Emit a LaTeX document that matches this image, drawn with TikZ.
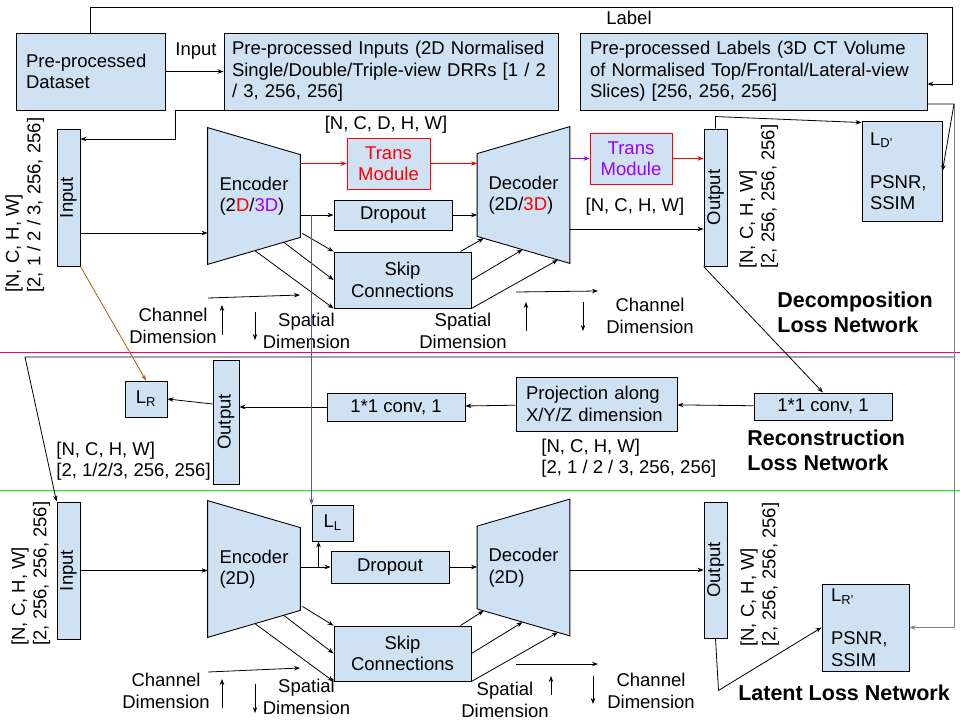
\documentclass[tikz,border=0pt]{standalone}
\usepackage{fontspec}
\setmainfont{Liberation Sans}
\usetikzlibrary{arrows.meta,calc,backgrounds}

\definecolor{boxblue}{HTML}{CFE2F3}
\definecolor{tmpurple}{HTML}{9900FF}
\definecolor{llpurple}{HTML}{674EA7}
\definecolor{lrorange}{HTML}{B45F06}

\tikzset{
  blk/.style={draw, fill=boxblue, line width=0.9pt, inner sep=0pt, align=center},
  txtbox/.style={draw, fill=boxblue, line width=0.9pt, align=left, inner xsep=10pt},
  coder/.style={inner sep=0pt, minimum width=92pt, minimum height=136pt, align=left},
  sizelbl/.style={rotate=90, align=left, anchor=north west, inner sep=0pt},
  dimlbl/.style={align=center, inner sep=0pt},
  netname/.style={font=\fontsize{21.5}{25}\selectfont\bfseries, align=left, inner sep=0pt},
  trapfill/.style={fill=boxblue, line width=0.9pt}
}

\begin{document}
\begin{tikzpicture}[x=1pt, y=-1pt, line width=0.8pt,
    font=\fontsize{18.5}{21.5}\selectfont,
    >={Stealth[length=6pt,width=4.5pt]}]
  \useasboundingbox (0,0) rectangle (960,720);

  % section borders
  \draw[magenta, line width=1pt] (0,352.5) -- (960,352.5);
  \draw[green, line width=1pt] (0,490.5) -- (960,490.5);

  % pre-processing
  \node[txtbox, text width=129pt, minimum height=77pt] (ds) at (90.5,71.5) {Pre-processed\\Dataset};
  \node[txtbox, inner xsep=8pt, text width=318pt, minimum height=77pt] (inp) at (391,71.5) {Pre-processed Inputs (2D Normalised\\Single/Double/Triple-view DRRs [1 / 2\\/ 3, 256, 256]};
  \node[txtbox, text width=327pt, minimum height=77pt] (lab) at (753.5,71.5) {Pre-processed Labels (3D CT Volume\\of Normalised Top/Frontal/Lateral-view\\Slices) [256, 256, 256]};
  \node (inlbl) at (196,51) {Input};
  \node (lablbl) at (629,18) {Label};

  % decomposition loss network
  \node[blk, minimum width=23pt, minimum height=137pt] (in1) at (68.5,197.5) {\rotatebox{90}{Input}};
  \node[sizelbl] (in1lbl) at (5,293) {[N, C, H, W]\\{}[2, 1 / 2 / 3, 256, 256]};
  \node[coder] (enc1) at (254,196) {Encoder\\(2\textcolor{red}{D}/\textcolor{tmpurple}{3D})};
  \node[blk, draw=red, text=red, minimum width=83pt, minimum height=51pt] (tm1) at (388.5,163.5) {Trans\\Module};
  \node (tm1lbl) at (386,125) {[N, C, D, H, W]};
  \node[blk, minimum width=118pt, minimum height=30pt] (dp1) at (393,215) {Dropout};
  \node[blk, minimum width=137pt, minimum height=56pt] (sk1) at (402.5,280) {Skip\\Connections};
  \node[coder] (dec1) at (523.5,195) {Decoder\\(2D/\textcolor{red}{3D})};
  \node[blk, draw=red, text=tmpurple, minimum width=82pt, minimum height=51pt] (tm2) at (631,158.5) {Trans\\Module};
  \node (tm2lbl) at (635,207) {[N, C, H, W]};
  \node[blk, minimum width=23pt, minimum height=137pt] (out1) at (715.5,197.5) {\rotatebox{90}{Output}};
  \node[sizelbl] (out1lbl) at (739,269) {[N, C, H, W]\\{}[2, 256, 256, 256]};
  \node[txtbox, inner xsep=8pt, text width=64pt, minimum height=100pt] (ld) at (902,171) {L\textsubscript{D’}\\[21.5pt]PSNR,\\SSIM};
  \node[dimlbl] (ch1) at (173,326) {Channel\\Dimension};
  \node[dimlbl] (sp1) at (306.5,331) {Spatial\\Dimension};
  \node[dimlbl] (sp2) at (463,331) {Spatial\\Dimension};
  \node[dimlbl] (ch2) at (650,316) {Channel\\Dimension};
  \node[netname, anchor=west] (dnet) at (777,312) {Decomposition\\Loss Network};

  % reconstruction loss network
  \node[blk, minimum width=138pt, minimum height=27pt] (cv2) at (823,406.5) {1*1 conv, 1};
  \node[txtbox, text width=141pt, minimum height=54pt] (pj) at (596.5,404) {Projection along\\X/Y/Z dimension};
  \node[blk, minimum width=138pt, minimum height=28pt] (cv1) at (396,407) {1*1 conv, 1};
  \node[blk, minimum width=26pt, minimum height=124pt] (out3) at (226,422) {\rotatebox{90}{Output}};
  \node[blk, minimum width=42pt, minimum height=36pt] (lr) at (146,399) {L\textsubscript{R}};
  \node[align=left, anchor=west, inner sep=0pt] (out3lbl) at (56,461) {[N, C, H, W]\\{}[2, 1/2/3, 256, 256]};
  \node[align=left, anchor=west, inner sep=0pt] (pjlbl) at (541,458) {[N, C, H, W]\\{}[2, 1 / 2 / 3, 256, 256]};
  \node[netname, anchor=west] (rnet) at (747,450) {Reconstruction\\Loss Network};

  % latent loss network
  \node[blk, minimum width=23pt, minimum height=137pt] (in2) at (68.5,570.5) {\rotatebox{90}{Input}};
  \node[sizelbl] (in2lbl) at (11,646) {[N, C, H, W]\\{}[2, 256, 256, 256]};
  \node[coder] (enc2) at (254,569) {Encoder\\(2D)};
  \node[blk, minimum width=41pt, minimum height=36pt] (ll) at (332.5,523) {L\textsubscript{L}};
  \node[blk, minimum width=118pt, minimum height=32pt] (dp2) at (390,567) {Dropout};
  \node[blk, minimum width=137pt, minimum height=55pt] (sk2) at (402.5,653.5) {Skip\\Connections};
  \node[coder] (dec2) at (523.5,567.5) {Decoder\\(2D)};
  \node[blk, minimum width=23pt, minimum height=136pt] (out2) at (715.5,570) {\rotatebox{90}{Output}};
  \node[sizelbl] (out2lbl) at (740,647) {[N, C, H, W]\\{}[2, 256, 256, 256]};
  \node[txtbox, inner xsep=9pt, text width=69pt, minimum height=87pt] (lr2) at (865.5,627.5) {L\textsubscript{R’}\\[21.5pt]PSNR,\\SSIM};
  \node[dimlbl] (ch3) at (166,691) {Channel\\Dimension};
  \node[dimlbl] (sp3) at (306.5,697) {Spatial\\Dimension};
  \node[dimlbl] (sp4) at (505,700) {Spatial\\Dimension};
  \node[dimlbl] (ch4) at (651,691) {Channel\\Dimension};
  \node[netname] (lnet) at (844,693) {Latent Loss Network};

  % encoder / decoder bodies
  \begin{scope}[on background layer]
    \filldraw[trapfill] (enc1.north west) -- ($(enc1.north east)+(0,27)$) -- ($(enc1.south east)+(0,-27)$) coordinate (enc1se) -- (enc1.south west) coordinate (enc1sw) -- cycle;
    \filldraw[trapfill] (dec1.north east) -- (dec1.south east) coordinate (dec1se) -- ($(dec1.south west)+(0,-27)$) coordinate (dec1sw) -- ($(dec1.north west)+(0,27)$) -- cycle;
    \filldraw[trapfill] (enc2.north west) -- ($(enc2.north east)+(0,27)$) -- ($(enc2.south east)+(0,-27)$) coordinate (enc2se) -- (enc2.south west) coordinate (enc2sw) -- cycle;
    \filldraw[trapfill] (dec2.north east) -- (dec2.south east) coordinate (dec2se) -- ($(dec2.south west)+(0,-27)$) coordinate (dec2sw) -- ($(dec2.north west)+(0,27)$) -- cycle;
  \end{scope}

  % data flow
  \draw[->] (ds) -- (inp);
  \coordinate (lp1) at (952,7);
  \coordinate (lp2) at (952,84);
  \draw[->] (ds.north) |- (lp1) -- (lp2) -- (lab.east |- lp2);
  \coordinate (ip1) at (175,139);
  \draw[->] (inp.south west) -| (ip1) -- (in1.east |- ip1);
  \coordinate (lp3) at (954,104);
  \draw[->] (lab.east |- lp3) -- (lp3) -- (ld.east);
  \draw[->, gray] (lp3) -- (lp3 |- lr2) -- (lr2);
  \coordinate (lp4) at (25,357);
  \draw[->] (lp3 |- lp4) -- (lp4) -- (in2.north west);

  % top network
  \draw[->] ($(in1.east)+(0,35.5)$) -- ($(enc1.west)+(0,37)$);
  \draw[->, red] (enc1.east |- tm1) -- (tm1);
  \draw[->, red] (tm1) -- (dec1.west |- tm1);
  \draw[->] (enc1.east |- dp1) -- (dp1);
  \draw[->] (dp1) -- (dec1.west |- dp1);
  \draw[->] ($(enc1se)+(2,-4)$) -- (sk1.north west);
  \draw[->] ($(enc1sw)!.82!(enc1se)$) -- (sk1.west);
  \draw[->] ($(enc1sw)!.51!(enc1se)$) -- (sk1.south west);
  \draw[->] ($(sk1.north east)+(-11,0)$) -- ($(dec1sw)!.07!(dec1se)$);
  \draw[->] (sk1.east) -- ($(dec1sw)!.49!(dec1se)$);
  \draw[->] (sk1.south east) -- ($(dec1sw)!.87!(dec1se)$);
  \draw[->, tmpurple] (dec1.east |- tm2) -- (tm2);
  \draw[->, red] (tm2) -- (out1.west |- tm2);
  \draw[->] ($(dec1.east)+(0,34)$) -- ($(out1.west)+(0,31.5)$);
  \draw[->] (out1.north) -- ++(0,-12) -- ($(ld.north west)+(0,2)$);

  % middle network
  \draw[->] (out1.south west) -- (cv2.north);
  \draw[->] (cv2) -- (pj);
  \draw[->] (pj) -- (cv1);
  \draw[->] (cv1.west) -- (out3.east |- cv1.west);
  \draw[->] ($(out3.west)+(0,-18)$) -- (lr.east);
  \draw[->, lrorange] (in1.south east) -- (lr.north);
  \draw[->, llpurple] (ll.north west |- dp1) -- (ll.north west);

  % bottom network
  \draw[->] (in2.east) -- (enc2.west |- in2.east);
  \draw[->] (enc2.east |- dp2) -- (dp2);
  \coordinate (llp) at ($(ll.south west)+(7,0)$);
  \draw[->] (llp |- dp2) -- (llp);
  \draw[->] (dp2) -- (dec2.west |- dp2);
  \draw[->] ($(enc2se)+(2,-4)$) -- (sk2.north west);
  \draw[->] ($(enc2sw)!.82!(enc2se)$) -- (sk2.west);
  \draw[->] ($(enc2sw)!.51!(enc2se)$) -- (sk2.south west);
  \draw[->] ($(sk2.north east)+(-11,0)$) -- ($(dec2sw)!.07!(dec2se)$);
  \draw[->] (sk2.east) -- ($(dec2sw)!.49!(dec2se)$);
  \draw[->] (sk2.south east) -- ($(dec2sw)!.87!(dec2se)$);
  \draw[->] (dec2.east |- out2) -- (out2);
  \draw[->] (out2.south) -- ++(3,52) -- (lr2.west);

  % dimension hints
  \draw[->] (208,298) -- (300,295);
  \draw[->] (222,335) -- (222,305);
  \draw[->] (255,312) -- (255,340);
  \draw[->] (516,292) -- (598,291);
  \draw[->] (526,331) -- (526,302);
  \draw[->] (583,302) -- (583,331);
  \draw[->] (208,672) -- (300,668);
  \draw[->] (222,708) -- (222,679);
  \draw[->] (255,684) -- (255,713);
  \draw[->] (516,664) -- (598,664);
  \draw[->] (551,695) -- (551,676);
  \draw[->] (593,676) -- (593,704);
\end{tikzpicture}
\end{document}
